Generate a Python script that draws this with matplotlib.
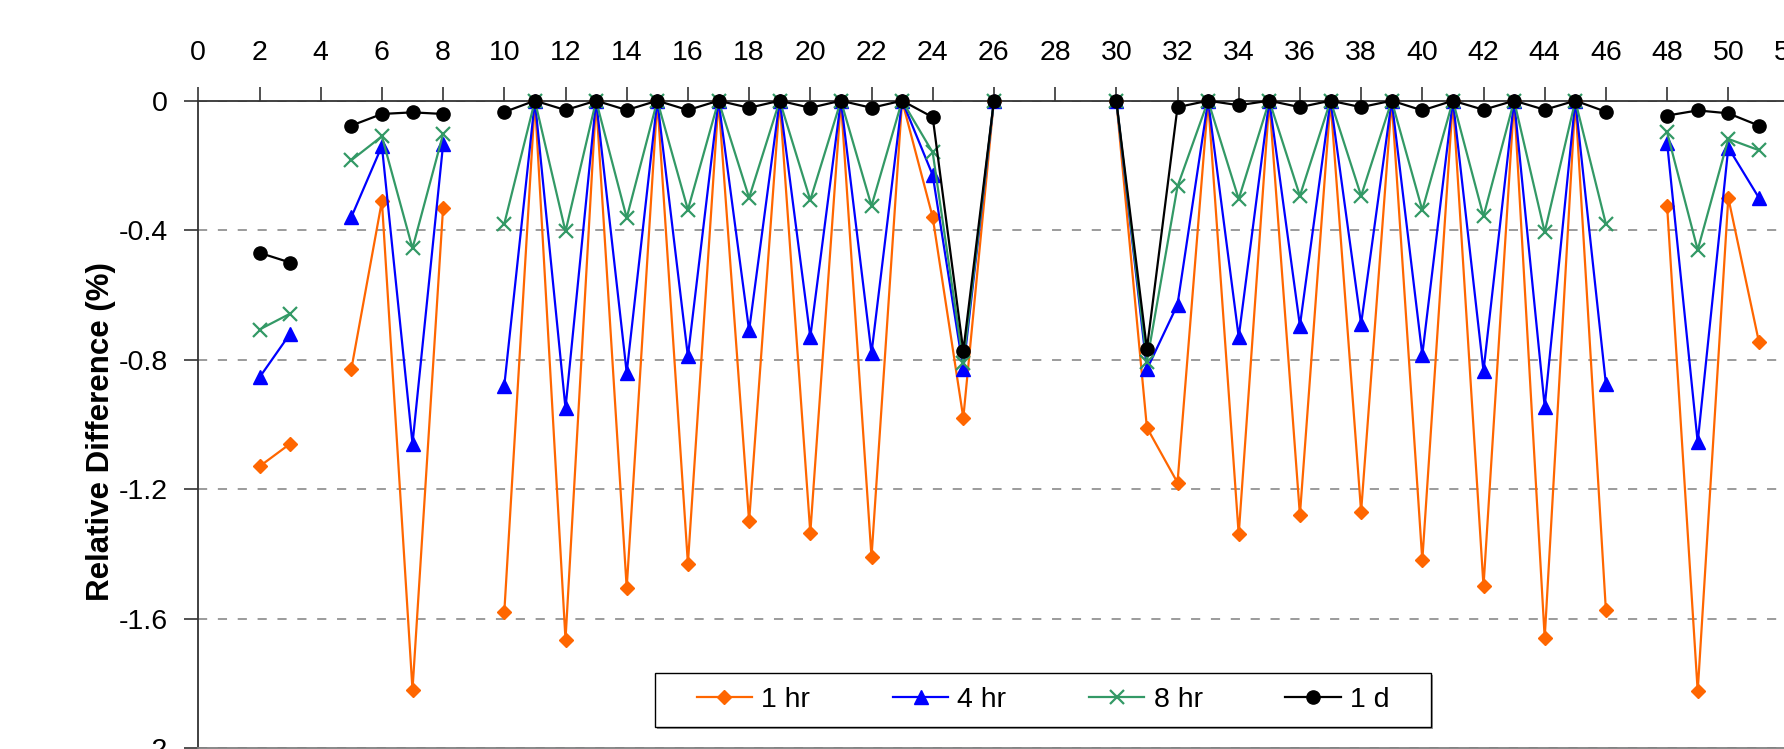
"""Relative difference (%) per case for the 1 hr / 4 hr / 8 hr / 1 d runs."""
import numpy as np
import matplotlib
matplotlib.use("Agg")
import matplotlib.pyplot as plt
from matplotlib.patches import Rectangle
from matplotlib.ticker import FuncFormatter, MultipleLocator

nan = np.nan

# case index 2..51; gaps (nan) at 4, 9, 27-29, 47
CASES = list(range(2, 52))

REL_1HR = [-1.13, -1.06, nan, -0.83, -0.31, -1.82, -0.33, nan,
           -1.58, 0, -1.665, 0, -1.505, 0, -1.43, 0, -1.30, 0, -1.335, 0, -1.41, 0, -0.36, -0.98, 0,
           nan, nan, nan,
           0, -1.01, -1.18, 0, -1.34, 0, -1.28, 0, -1.27, 0, -1.42, 0, -1.50, 0, -1.66, 0, -1.575,
           nan,
           -0.325, -1.825, -0.30, -0.745]

REL_4HR = [-0.855, -0.72, nan, -0.36, -0.14, -1.06, -0.135, nan,
           -0.88, 0, -0.95, 0, -0.84, 0, -0.79, 0, -0.71, 0, -0.73, 0, -0.78, 0, -0.23, -0.83, 0,
           nan, nan, nan,
           0, -0.83, -0.63, 0, -0.73, 0, -0.695, 0, -0.69, 0, -0.785, 0, -0.835, 0, -0.945, 0, -0.875,
           nan,
           -0.13, -1.055, -0.145, -0.30]

REL_8HR = [-0.707, -0.658, nan, -0.184, -0.11, -0.456, -0.103, nan,
           -0.38, 0, -0.404, 0, -0.362, 0, -0.337, 0, -0.30, 0, -0.307, 0, -0.325, 0, -0.16, -0.81, 0,
           nan, nan, nan,
           0, -0.807, -0.265, 0, -0.304, 0, -0.294, 0, -0.294, 0, -0.338, 0, -0.357, 0, -0.406, 0, -0.381,
           nan,
           -0.098, -0.461, -0.118, -0.153]

REL_1D = [-0.47, -0.50, nan, -0.077, -0.041, -0.036, -0.041, nan,
          -0.035, 0, -0.029, 0, -0.029, 0, -0.029, 0, -0.022, 0, -0.022, 0, -0.022, 0, -0.051, -0.773, 0,
          nan, nan, nan,
          0, -0.767, -0.02, 0, -0.014, 0, -0.02, 0, -0.02, 0, -0.03, 0, -0.028, 0, -0.028, 0, -0.034,
          nan,
          -0.046, -0.03, -0.039, -0.077]

# label, values, colour, marker, marker size
SERIES = [
    ("1 hr", REL_1HR, "#FF6600", "D", 7.5),
    ("4 hr", REL_4HR, "#0000FF", "^", 10),
    ("8 hr", REL_8HR, "#339966", "x", 10),
    ("1 d", REL_1D, "#000000", "o", 9.5),
]

W, H = 1784, 749


def main():
    plt.rcParams["font.family"] = ["Liberation Sans", "DejaVu Sans"]
    plt.rcParams["axes.unicode_minus"] = False

    fig = plt.figure(figsize=(W / 100, H / 100), dpi=100)
    # plot area runs off the right edge of the picture, as in the original crop
    x0, top, bot = 198.3, 100.7, 748.0
    px_per_unit = 30.6
    xmax = 56
    ax = fig.add_axes([x0 / W, 1 - bot / H, xmax * px_per_unit / W, (bot - top) / H])

    for label, vals, col, mk, ms in SERIES:
        ax.plot(CASES, vals, color=col, lw=1.6, marker=mk, ms=ms,
                mew=1.6 if mk == "x" else 1, label=label, clip_on=False, zorder=3)

    ax.set_xlim(0, xmax)
    ax.set_ylim(-2, 0)
    ax.xaxis.set_major_locator(MultipleLocator(2))
    ax.yaxis.set_major_locator(MultipleLocator(0.4))
    ax.yaxis.set_major_formatter(FuncFormatter(lambda v, p: f"{v:g}" if abs(v) > 1e-9 else "0"))
    ax.xaxis.tick_top()
    ax.tick_params(axis="x", direction="out", length=10, width=1.2, pad=15,
                   labelsize=20.5, color="#333333")
    ax.tick_params(axis="y", direction="out", length=10, width=1.2, pad=12,
                   labelsize=20.5, color="#333333")

    ax.grid(axis="y", color="#808080", lw=1.1, ls=(0, (6, 7)))
    ax.set_axisbelow(True)
    for s in ("left", "top"):
        ax.spines[s].set_color("#333333")
        ax.spines[s].set_linewidth(1.3)
    ax.spines["bottom"].set_color("#808080")
    ax.spines["bottom"].set_linewidth(1.3)
    ax.spines["right"].set_visible(False)

    fig.text(101 / W, 1 - 432 / H, "Relative Difference (%)", rotation=90,
             ha="center", va="center", fontsize=22.5, fontweight="bold")

    # legend: one row, boxed, bottom middle
    lx0, lx1, ly0, ly1 = 655, 1431, 673, 727
    fig.patches.append(Rectangle(((lx0 + 2) / W, 1 - (ly1 + 2) / H), (lx1 - lx0) / W, (ly1 - ly0) / H,
                                 transform=fig.transFigure, facecolor="#999999", edgecolor="none",
                                 zorder=4))
    fig.patches.append(Rectangle((lx0 / W, 1 - ly1 / H), (lx1 - lx0) / W, (ly1 - ly0) / H,
                                 transform=fig.transFigure, facecolor="white", edgecolor="black",
                                 lw=1.0, zorder=5))
    leg = fig.legend(loc="center", bbox_to_anchor=((lx0 + lx1) / 2 / W, 1 - (ly0 + ly1) / 2 / H),
                     bbox_transform=fig.transFigure, ncol=4, frameon=False, fontsize=20.5,
                     handlelength=1.95, handletextpad=0.32, columnspacing=2.9, borderpad=0.2)
    leg.set_zorder(6)

    fig.savefig("out.png", dpi=100)


if __name__ == "__main__":
    main()
